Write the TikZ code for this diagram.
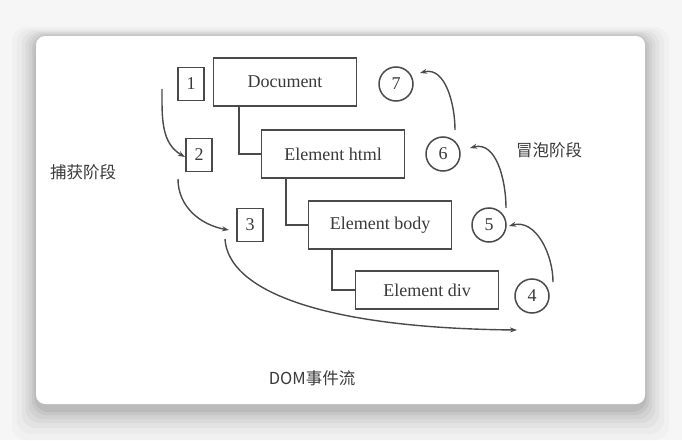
\documentclass[tikz,border=0pt]{standalone}
\usepackage{fontspec}
\setmainfont{Liberation Serif}
\newfontfamily\cjk{Noto Sans CJK SC}
\usetikzlibrary{arrows.meta}
\definecolor{ln}{HTML}{4A4A4A}
\definecolor{tx}{HTML}{3A3A3A}
\definecolor{bg}{HTML}{F6F6F6}
\tikzset{
  elbox/.style={draw=ln, line width=1.6pt, minimum width=143pt, minimum height=48pt, inner sep=0pt, font=\fontsize{18}{21}\selectfont, text=tx},
  numbox/.style={draw=ln, line width=1.5pt, minimum width=26pt, minimum height=33pt, inner sep=0pt, font=\fontsize{18}{21}\selectfont, text=tx},
  numcirc/.style={draw=ln, line width=1.5pt, circle, minimum size=34pt, inner sep=0pt, font=\fontsize{18}{21}\selectfont, text=tx},
  tree/.style={draw=ln, line width=1.6pt},
  flow/.style={draw=ln, line width=1.4pt, -{Stealth[length=7pt,width=5pt]}},
  cjklabel/.style={font=\cjk\fontsize{16.5}{18}\selectfont, text=tx}
}
\begin{document}
\begin{tikzpicture}[x=1pt,y=1pt]
\useasboundingbox (0,0) rectangle (682,440);
\fill[bg] (0,0) rectangle (682,440);
% shadow
\foreach \d/\o in {30/0.02,24/0.025,18/0.03,13/0.035,9/0.04,5/0.05,2/0.06}{
  \fill[black, opacity=\o, rounded corners=14pt] (36-\d*0.8,30-\d) rectangle (645+\d*0.8,404+\d*0.3);
}
\fill[white, rounded corners=9pt] (36,36) rectangle (645,404);

% tree nodes
\node[elbox] (doc) at (285,358) {Document};
\node[elbox] (html) at (333,286) {Element html};
\node[elbox] (body) at (380,215) {Element body};
\node[elbox, minimum height=38pt] (div) at (427,150) {Element div};

\node[numbox] (n1) at (191,356) {1};
\node[numbox] (n2) at (199,285) {2};
\node[numbox] (n3) at (250,215) {3};

\node[numcirc] (c7) at (396,356) {7};
\node[numcirc] (c6) at (443,286) {6};
\node[numcirc] (c5) at (489,215) {5};
\node[numcirc] (c4) at (532,144) {4};

% tree connectors
\draw[tree] (doc.south west) ++(26,0) |- (html.west);
\draw[tree] (html.south west) ++(25,0) |- (body.west);
\draw[tree] (body.south west) ++(24,0) |- (div.west);

% labels
\node[cjklabel] (cap) at (83,268) {捕获阶段};
\node[cjklabel] (bub) at (549,290) {冒泡阶段};
\node[cjklabel] (title) at (312,62) {DOM事件流};

% capture flow
\coordinate (a1s) at (162,351);
\coordinate (a1e) at (185,283);
\coordinate (a2s) at (178,261);
\coordinate (a2e) at (229,210);
\coordinate (a3s) at (225,201);
\coordinate (a3e) at (517,110);
\draw[flow] (a1s) to[out=-90,in=150] (a1e);
\draw[flow] (a2s) to[out=-90,in=170] (a2e);
\draw[flow] (a3s) .. controls (228,150) and (320,112) .. (a3e);

% bubble flow
\coordinate (b4s) at (553,158);
\coordinate (b4e) at (509,214);
\coordinate (b5s) at (506,232);
\coordinate (b5e) at (470,292);
\coordinate (b6s) at (455,310);
\coordinate (b6e) at (420,367);
\draw[flow] (b4s) to[out=90,in=15] (b4e);
\draw[flow] (b5s) to[out=90,in=15] (b5e);
\draw[flow] (b6s) to[out=90,in=15] (b6e);
\end{tikzpicture}
\end{document}
